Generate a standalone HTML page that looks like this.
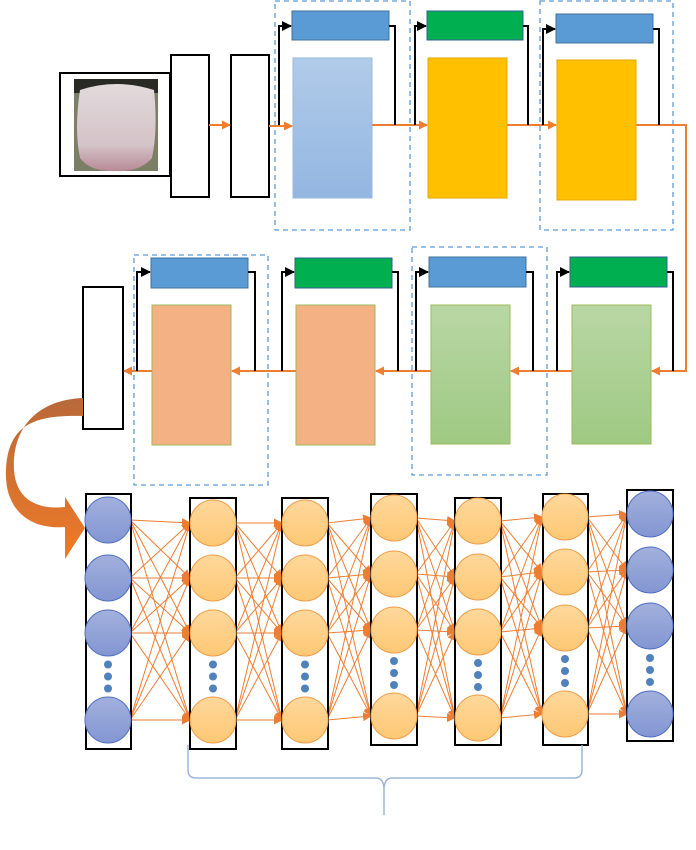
<!DOCTYPE html>
<html><head><meta charset="utf-8"><style>html,body{margin:0;padding:0;background:#fff}svg{display:block}</style></head>
<body>
<svg id="s" width="696" height="850" viewBox="0 0 696 850" xmlns="http://www.w3.org/2000/svg">
<defs>
<linearGradient id="lb" x1="0" y1="0" x2="0" y2="1"><stop offset="0" stop-color="#b1cbe9"/><stop offset="1" stop-color="#93b6e1"/></linearGradient>
<linearGradient id="lg" x1="0" y1="0" x2="0" y2="1"><stop offset="0" stop-color="#b9d7a5"/><stop offset="1" stop-color="#9fc983"/></linearGradient>
<linearGradient id="bc" x1="0" y1="0" x2="0" y2="1"><stop offset="0" stop-color="#a2b0dc"/><stop offset="1" stop-color="#8296d2"/></linearGradient>
<linearGradient id="oc" x1="0" y1="0" x2="0" y2="1"><stop offset="0" stop-color="#ffd89c"/><stop offset="1" stop-color="#fdc874"/></linearGradient>
<linearGradient id="cv" x1="0" y1="0" x2="0" y2="1"><stop offset="0" stop-color="#b8693a"/><stop offset="1" stop-color="#ef7a28"/></linearGradient>
<linearGradient id="tg" x1="0" y1="0" x2="0" y2="1"><stop offset="0" stop-color="#e2dadc"/><stop offset="0.7" stop-color="#d4c3c8"/><stop offset="1" stop-color="#b88a95"/></linearGradient>
<marker id="ao" markerWidth="9" markerHeight="9" refX="8" refY="4.5" orient="auto" markerUnits="userSpaceOnUse"><path d="M0,0 L9,4.5 L0,9z" fill="#ed7d31"/></marker>
<marker id="ab" markerWidth="10" markerHeight="10" refX="9" refY="5" orient="auto" markerUnits="userSpaceOnUse"><path d="M0,0 L10,5 L0,10z" fill="#000"/></marker>
</defs>
<rect x="60" y="73" width="110" height="103" fill="#fff" stroke="#000" stroke-width="2"/>
<rect x="74" y="79" width="84" height="92" fill="#7a7f66"/>
<rect x="74" y="79" width="84" height="14" fill="#2a2a24"/>
<path d="M80,90 Q116,78 154,90 Q158,130 152,158 Q140,172 116,171 Q90,172 80,158 Q74,130 80,90Z" fill="url(#tg)"/>
<rect x="171" y="55" width="38" height="142" fill="#fff" stroke="#000" stroke-width="2"/>
<rect x="231" y="55" width="38" height="142" fill="#fff" stroke="#000" stroke-width="2"/>
<g fill="none" stroke="#5b9bd5" stroke-width="1.3" stroke-dasharray="5,4">
<rect x="275" y="1" width="135" height="229"/>
<rect x="540" y="1" width="133" height="229"/>
<rect x="134" y="255" width="134" height="230"/>
<rect x="412" y="247" width="135" height="228"/>
</g>
<rect x="292" y="11" width="97" height="29" fill="#5b9bd5" stroke="#41719c"/>
<rect x="293" y="58" width="79" height="140" fill="url(#lb)" stroke="#9bb8da"/>
<rect x="427" y="11" width="96" height="29" fill="#00b050" stroke="#2f5f8f"/>
<rect x="428" y="58" width="79" height="140" fill="#ffc000" stroke="#e0a800"/>
<rect x="556" y="14" width="97" height="29" fill="#5b9bd5" stroke="#41719c"/>
<rect x="557" y="60" width="79" height="140" fill="#ffc000" stroke="#e0a800"/>
<rect x="83" y="287" width="40" height="142" fill="#fff" stroke="#000" stroke-width="2"/>
<rect x="151" y="258" width="97" height="30" fill="#5b9bd5" stroke="#41719c"/>
<rect x="152" y="305" width="79" height="140" fill="#f4b183" stroke="#9bbb59"/>
<rect x="295" y="258" width="97" height="30" fill="#00b050" stroke="#2f5f8f"/>
<rect x="296" y="305" width="79" height="140" fill="#f4b183" stroke="#9bbb59"/>
<rect x="429" y="257" width="97" height="30" fill="#5b9bd5" stroke="#41719c"/>
<rect x="431" y="305" width="79" height="139" fill="url(#lg)" stroke="#9bbb59"/>
<rect x="570" y="257" width="97" height="30" fill="#00b050" stroke="#2f5f8f"/>
<rect x="572" y="305" width="79" height="139" fill="url(#lg)" stroke="#9bbb59"/>
<g stroke="#ed7d31" stroke-width="2" fill="none">
<line x1="209" y1="125" x2="230" y2="125" marker-end="url(#ao)"/>
<line x1="269" y1="126" x2="292" y2="126" marker-end="url(#ao)"/>
<line x1="372" y1="125" x2="427" y2="125" marker-end="url(#ao)"/>
<line x1="507" y1="125" x2="556" y2="125" marker-end="url(#ao)"/>
<polyline points="636,125 686,125 686,371 652,371" marker-end="url(#ao)"/>
<line x1="572" y1="371" x2="511" y2="371" marker-end="url(#ao)"/>
<line x1="431" y1="371" x2="376" y2="371" marker-end="url(#ao)"/>
<line x1="296" y1="371" x2="232" y2="371" marker-end="url(#ao)"/>
<line x1="152" y1="371" x2="124" y2="371" marker-end="url(#ao)"/>
</g>
<g stroke="#000" stroke-width="2" fill="none">
<polyline points="279,125 279,26 291,26" marker-end="url(#ab)"/><polyline points="389,26 395,26 395,125"/>
<polyline points="415,125 415,26 426,26" marker-end="url(#ab)"/><polyline points="523,26 528,26 528,125"/>
<polyline points="543,125 543,29 555,29" marker-end="url(#ab)"/><polyline points="653,29 659,29 659,125"/>
<polyline points="137,371 137,272 150,272" marker-end="url(#ab)"/><polyline points="248,272 255,272 255,371"/>
<polyline points="282,371 282,272 294,272" marker-end="url(#ab)"/><polyline points="392,272 398,272 398,371"/>
<polyline points="416,371 416,272 428,272" marker-end="url(#ab)"/><polyline points="526,272 533,272 533,371"/>
<polyline points="557,371 557,272 569,272" marker-end="url(#ab)"/><polyline points="667,272 673,272 673,371"/>
</g>
<path d="M83,398 C35,400 12,430 14,470 C16,500 38,510 65,507 L65,497 L85,528 L65,559 L65,527 C28,530 4,508 6,470 C8,422 38,415 83,416 Z" fill="url(#cv)"/>
<g id="net"></g>
<path d="M188,745 L188,770 Q188,778 196,778 L376,778 Q384,778 384,790 L384,815 M384,790 Q384,778 392,778 L574,778 Q582,778 582,770 L582,745" fill="none" stroke="#9db7d8" stroke-width="1.5"/>
</svg>
<script>
var cols=[[86,494,131,749,108,[520,578,633,720],1],[190,498,236,749,213,[523,578,633,720],0],[282,498,328,749,305,[523,578,633,720],0],[371,494,417,745,394,[518,574,630,716],0],[455,498,501,745,478,[521,577,632,718],0],[543,494,588,745,565,[517,572,628,714],0],[627,490,673,741,650,[514,570,626,714],1]];
var g=document.getElementById('net'),h='',R=23;
for(var i=0;i<cols.length-1;i++){var a=cols[i],b=cols[i+1];for(var p=0;p<4;p++)for(var q=0;q<4;q++){
h+='<line x1="'+(a[4]+22)+'" y1="'+a[5][p]+'" x2="'+(b[4]-23)+'" y2="'+b[5][q]+'" stroke="#ed7d31" stroke-width="1" marker-end="url(#ao)"/>';}}
for(var i=0;i<cols.length;i++){var c=cols[i];h+='<rect x="'+c[0]+'" y="'+c[1]+'" width="'+(c[2]-c[0])+'" height="'+(c[3]-c[1])+'" fill="none" stroke="#000" stroke-width="2"/>';
for(var p=0;p<4;p++)h+='<circle cx="'+c[4]+'" cy="'+c[5][p]+'" r="'+R+'" fill="url(#'+(c[6]?'bc':'oc')+')" stroke="'+(c[6]?'#4f6fbf':'#ed9d4b')+'"/>';
var d=(c[5][2]+c[5][3])/2;for(var k=-1;k<=1;k++)h+='<circle cx="'+c[4]+'" cy="'+(d+k*12)+'" r="4" fill="#4f81bd"/>';}
g.innerHTML=h;
</script>
</body></html>
